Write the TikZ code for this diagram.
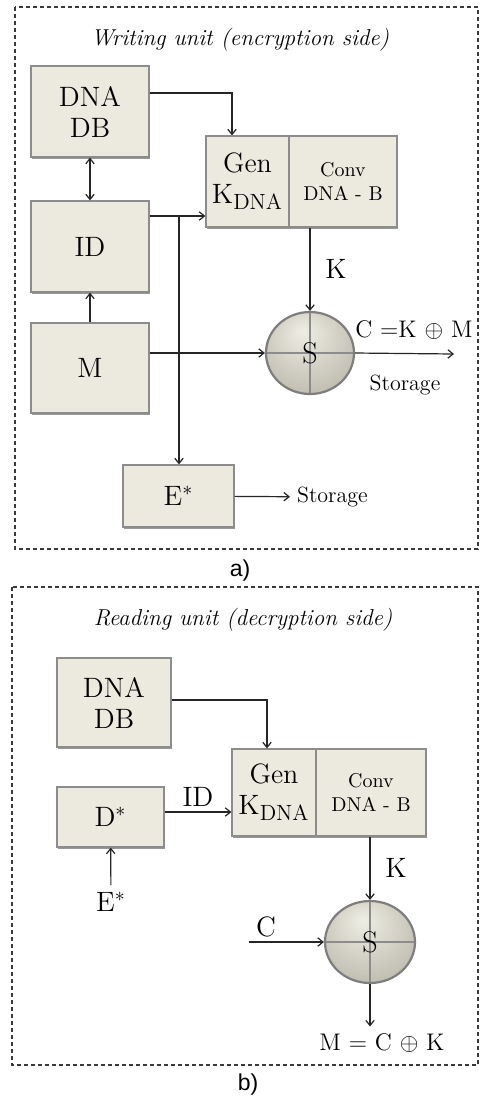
\documentclass[tikz,border=0pt]{standalone}
\usepackage{fontspec}
\setsansfont{Liberation Sans}
\usepackage{tikz}
\usetikzlibrary{arrows.meta,positioning,calc,shadows,shapes.geometric}
\definecolor{paper}{HTML}{ECE9DF}
\definecolor{edge}{HTML}{8C8C8C}
\definecolor{frameline}{HTML}{3A3A3A}
\definecolor{orbhi}{HTML}{EFEEE4}
\definecolor{orbmid}{HTML}{B9B6A9}
\definecolor{orblo}{HTML}{7E7B72}
\pgfdeclareradialshading{orb}{\pgfpoint{-4bp}{14bp}}{color(0bp)=(orbhi); color(14bp)=(orbhi!60!orbmid); color(36bp)=(orbmid); color(54bp)=(orblo)}
\tikzset{
  block/.style={draw=edge,fill=paper,line width=0.6pt,align=center,inner sep=1pt,
    font=\fontsize{14}{15.5}\selectfont,
    drop shadow={shadow xshift=0.5pt,shadow yshift=-1pt,fill=black!40,opacity=1}},
  small/.style={font=\fontsize{10}{12}\selectfont},
  orb/.style={ellipse,draw=edge!90!black,line width=1.1pt,shading=orb,inner sep=0pt,
    font=\fontsize{15}{16}\selectfont,
    path picture={\draw[edge,line width=1pt]
      (path picture bounding box.north) -- (path picture bounding box.south)
      (path picture bounding box.west) -- (path picture bounding box.east);}},
  flow/.style={-{Straight Barb[length=2.6pt,width=4.2pt]},line width=0.6pt,draw=black!85},
  tag/.style={font=\fontsize{14}{15}\selectfont},
  eqn/.style={font=\fontsize{12}{14}\selectfont},
  note/.style={font=\fontsize{11}{13}\selectfont},
  unit/.style={draw=frameline,line width=0.6pt,dash pattern=on 2pt off 1.5pt},
  heading/.style={font=\fontsize{11.5}{13}\selectfont\itshape},
}
\newcommand{\kdna}{K\textsubscript{\fontsize{11}{12}\selectfont DNA}}

\begin{document}
\begin{tikzpicture}[x=0.5pt,y=-0.5pt,
  lbl/.style={font=\sffamily\fontsize{11.5}{13}\selectfont}]
  \useasboundingbox (0,0) rectangle (479,1100);
  % a) writing unit
  \draw[unit] (15,7) rectangle (478,549);
  \node[heading] (titleA) at (240,40) {Writing unit (encryption side)};
  \node[block,minimum width=59pt,minimum height=45.5pt] (dbA) at (90,111.5) {DNA\\DB};
  \node[block,minimum width=59pt,minimum height=45.5pt] (idA) at (90,246.5) {ID};
  \node[block,minimum width=59pt,minimum height=45pt] (msgA) at (90,368) {M};
  \node[block,minimum width=41.5pt,minimum height=45.5pt] (genA) at (247.5,181.5) {Gen\\\kdna};
  \node[block,small,minimum width=54pt,minimum height=45.5pt] (convA) at (343,181.5) {Conv\\DNA - B};
  \node[orb,minimum width=44pt,minimum height=41pt] (sA) at (310,353) {S};
  \node[block,minimum width=55.5pt,minimum height=31pt] (estarA) at (178.5,496) {E$^*$};
  \node[note,anchor=west] (stoA) at (290,497) {Storage};
  \coordinate (tapA) at (179,216);
  \coordinate (outA) at (454,354);
  \draw[flow] ([yshift=9.25pt]dbA.east) -| ([xshift=-7.75pt]genA.north);
  \draw[{Straight Barb[length=2.6pt,width=4.2pt]}-{Straight Barb[length=2.6pt,width=4.2pt]},line width=0.6pt,draw=black!85] (dbA) -- (idA);
  \draw[flow] (idA.east |- tapA) -- (genA.west |- tapA);
  \draw[flow] (tapA) -- (tapA |- estarA.north);
  \foreach \a/\b in {msgA/idA,estarA/stoA}
    \draw[flow] (\a) -- (\b);
  \draw[flow] (msgA.east |- sA.west) -- (sA.west);
  \draw[flow] (sA.north |- convA.south) -- node[tag,right=4pt] {K} (sA.north);
  \draw[flow] (sA.east) -- (outA);
  \node[eqn] (encA) at (414,330) {C =K $\oplus$ M};
  \node[note] (stoA2) at (405,385) {Storage};
  \node[lbl] (capA) at (240,571) {a)};
  % b) reading unit
  \draw[unit] (12,587) rectangle (478,1065);
  \node[heading] (titleB) at (243,620) {Reading unit (decryption side)};
  \node[block,minimum width=57pt,minimum height=44.5pt] (dbB) at (114,702.5) {DNA\\DB};
  \node[block,minimum width=42pt,minimum height=43.5pt] (genB) at (274,792.5) {Gen\\\kdna};
  \node[block,small,minimum width=55pt,minimum height=43.5pt] (convB) at (371,792.5) {Conv\\DNA - B};
  \node[block,minimum width=53.5pt,minimum height=30pt] (dstarB) at (110.5,817) {D$^*$};
  \node[tag] (estB) at (111,902) {E$^*$};
  \node[orb,minimum width=45pt,minimum height=41pt] (sB) at (370,942) {S};
  \node[tag] (cB) at (266,927) {C};
  \node[eqn] (plainB) at (382,1043) {M = C $\oplus$ K};
  \coordinate (cinB) at (249,942);
  \draw[flow] ([yshift=1.25pt]dbB.east) -| ([xshift=-3.5pt]genB.north);
  \draw[flow] (dstarB.east |- 0,812) -- node[tag,above=-1pt] {ID} (genB.west |- 0,812);
  \draw[flow] (estB) -- (dstarB);
  \draw[flow] (sB.north |- convB.south) -- node[tag,right=4pt] {K} (sB.north);
  \draw[flow] (cinB) -- (sB.west);
  \draw[flow] (sB.south) -- (sB.south |- plainB.north);
  \node[lbl] (capB) at (248,1085) {b)};
\end{tikzpicture}
\end{document}
